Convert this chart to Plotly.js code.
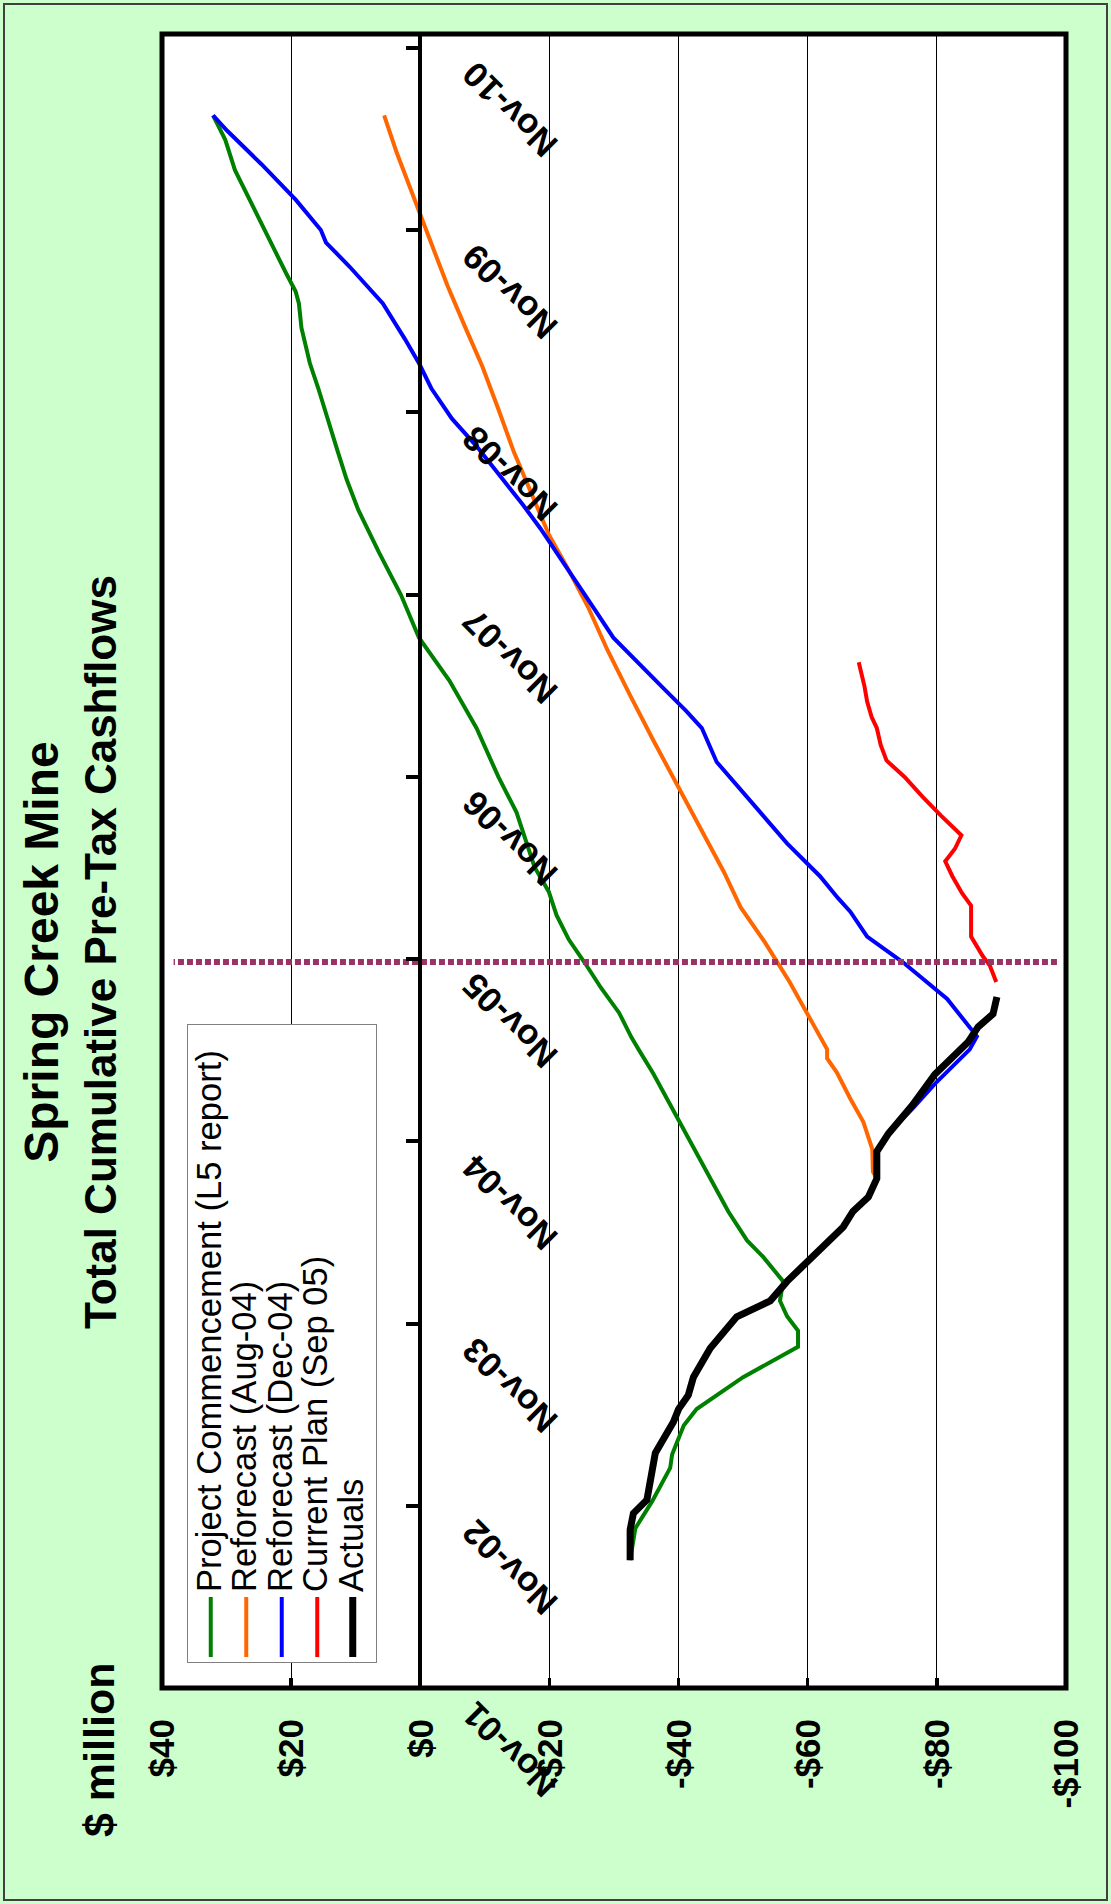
<!DOCTYPE html>
<html><head><meta charset="utf-8">
<script src="https://cdn.plot.ly/plotly-3.0.1.min.js"></script>
<style>
html,body{margin:0;padding:0;width:1111px;height:1904px;overflow:hidden;background:#ccffcc;}
#wrap{position:absolute;left:0;top:0;width:1904px;height:1111px;transform-origin:0 0;transform:translateY(1904px) rotate(-90deg);}
</style></head><body><div id="wrap"></div>
<script>
// ---- data ----
const actualDates = ['2002-07-15','2002-09-14','2002-10-17','2002-11-13','2003-02-15','2003-04-18','2003-05-14','2003-06-11','2003-07-17','2003-09-13','2003-11-15','2003-11-28','2003-12-17','2004-01-25','2004-03-04','2004-04-14','2004-05-13','2004-06-13','2004-07-12','2004-08-18','2004-10-11','2004-11-16','2005-01-12','2005-03-15','2005-04-15','2005-05-18','2005-06-18','2005-07-14','2005-08-17'];
const actualVals = [-32.5,-32.5,-33.0,-35.1,-36.4,-39.2,-40.0,-41.5,-42.3,-44.9,-49.0,-51.1,-54.2,-56.8,-59.9,-63.5,-65.5,-67.0,-69.4,-70.7,-70.7,-72.5,-76.2,-79.7,-82.1,-84.8,-86.4,-88.7,-89.3];

const projDates = ['2002-07-15','2002-08-21','2002-09-17','2002-11-10','2003-01-16','2003-02-12','2003-04-11','2003-05-14','2003-07-17','2003-08-19','2003-09-16','2003-10-18','2003-11-16','2003-12-17','2004-01-25','2004-03-14','2004-04-16','2004-06-13','2004-10-13','2004-12-16','2005-02-19','2005-03-16','2005-05-04','2005-05-28','2005-07-16','2005-09-04','2005-10-22','2005-12-10','2006-01-28','2006-03-16','2006-05-04','2006-08-22','2006-11-01','2007-02-07','2007-05-13','2007-08-07','2007-11-01','2008-01-25','2008-04-19','2008-06-19','2008-08-19','2008-11-01','2008-12-19','2009-02-07','2009-04-19','2009-06-07','2009-07-01','2009-08-07','2009-09-25','2009-11-13','2010-01-13','2010-03-01','2010-05-01','2010-06-19'];
const projVals = [-32.5,-33.0,-33.3,-35.9,-38.7,-39.0,-40.8,-42.8,-50.0,-54.6,-58.5,-58.5,-56.8,-55.7,-56.2,-53.1,-50.6,-47.7,-42.6,-39.9,-37.2,-36.1,-33.8,-32.7,-30.8,-28.0,-25.6,-23.0,-21.1,-19.9,-17.7,-14.9,-12.1,-8.7,-4.5,0.2,3.0,6.4,9.6,11.4,12.9,14.6,15.8,17.1,18.4,18.8,19.3,20.8,22.7,24.6,26.8,28.7,30.2,32.1];

const aug04Dates = ['2004-08-18','2004-09-01','2004-10-16','2004-12-10','2005-01-25','2005-03-19','2005-04-16','2005-05-04','2005-06-22','2005-09-16','2005-12-04','2006-02-13','2006-04-25','2006-07-28','2006-10-25','2007-01-13','2007-04-16','2007-07-13','2007-10-07','2007-12-25','2008-03-01','2008-05-25','2008-08-13','2008-11-07','2009-02-01','2009-04-19','2009-07-13','2009-10-19','2010-01-16','2010-04-07','2010-06-19'];
const aug04Vals = [-70.7,-70.1,-70.0,-68.6,-66.6,-64.5,-63.0,-63.0,-60.9,-57.2,-53.4,-49.6,-47.0,-43.1,-39.3,-36.1,-32.4,-29.0,-26.0,-22.8,-19.9,-17.1,-14.5,-12.1,-9.6,-7.0,-4.2,-1.3,1.3,3.7,5.6];

const dec04Dates = ['2004-10-11','2004-11-16','2005-01-06','2005-02-28','2005-05-04','2005-05-30','2005-08-13','2005-10-25','2005-12-16','2006-02-04','2006-03-03','2006-04-16','2006-06-21','2006-08-16','2006-10-08','2006-12-01','2007-02-07','2007-03-13','2007-05-01','2007-06-19','2007-08-07','2007-10-01','2007-11-25','2008-01-19','2008-03-13','2008-05-01','2008-07-01','2008-08-25','2008-10-19','2008-12-19','2009-02-07','2009-03-28','2009-06-07','2009-08-19','2009-10-07','2009-11-01','2010-01-01','2010-03-13','2010-05-19','2010-06-19'];
const dec04Vals = [-70.7,-72.5,-76.3,-80.0,-85.1,-86.2,-81.6,-74.8,-69.2,-66.6,-64.7,-61.9,-56.8,-53.0,-49.6,-45.9,-43.6,-41.2,-37.4,-33.7,-29.9,-27.1,-24.3,-21.5,-18.6,-15.8,-12.1,-8.7,-4.9,-1.7,0.2,2.4,5.8,10.9,14.6,15.4,19.3,24.6,29.9,32.1];

const sep05Dates = ['2005-09-16','2005-10-19','2005-11-07','2005-12-16','2006-02-16','2006-03-13','2006-04-16','2006-05-16','2006-06-10','2006-07-07','2006-08-16','2006-09-22','2006-11-01','2006-12-04','2007-01-04','2007-02-07','2007-03-01','2007-04-01','2007-05-01','2007-06-19'];
const sep05Vals = [-89.2,-88.2,-87.1,-85.3,-85.3,-83.9,-82.4,-81.3,-82.8,-83.8,-80.6,-77.8,-75.0,-72.2,-71.3,-70.7,-69.9,-69.2,-68.8,-67.9];

const markerDates = ['2005-10-26','2005-10-26'];
const markerVals = [-98.6, 38.2];

const seriesNames = ['Project Commencement (L5 report)','Reforecast (Aug-04)','Reforecast (Dec-04)','Current Plan (Sep 05)','Actuals'];
const yTickVals = [40,20,0,-20,-40,-60,-80,-100];
const yTickText = ['$40','$20','$0','-$20','-$40','-$60','-$80','-$100'];
const titleLines = ['Spring Creek Mine','Total Cumulative Pre-Tax Cashflows'];
const unitLabel = '$ million';

// ---- chart ----
const FONT = 'Liberation Sans, Arial, sans-serif';
function lg(n, pad){ return '<span style="font-size:34.6px">' + n + (pad ? '&nbsp;&nbsp;' : '') + '</span>'; }
const traces = [
  {x: projDates, y: projVals, name: lg(seriesNames[0], true), mode:'lines', line:{color:'#008000', width:4}},
  {x: aug04Dates, y: aug04Vals, name: lg(seriesNames[1]), mode:'lines', line:{color:'#FF6600', width:4}},
  {x: dec04Dates, y: dec04Vals, name: lg(seriesNames[2]), mode:'lines', line:{color:'#0000FF', width:4}},
  {x: sep05Dates, y: sep05Vals, name: lg(seriesNames[3]), mode:'lines', line:{color:'#FF0000', width:4}},
  {x: actualDates, y: actualVals, name: lg(seriesNames[4]), mode:'lines', line:{color:'#000000', width:7}},
  {x: markerDates, y: markerVals, mode:'lines', showlegend:false, line:{color:'#993366', width:6, dash:'6px,3px'}}
];

const H = 904, W = 1654;
const layout = {
  width: 1904, height: 1111,
  margin: {l:216, r:34, t:162, b:45},
  paper_bgcolor: '#ccffcc', plot_bgcolor: '#ffffff',
  font: {family: FONT, color:'#000'},
  showlegend: true,
  title: {
    text: '<span style="font-size:48px">' + titleLines[0] + '</span><br>' + titleLines[1],
    font: {family: FONT, size: 44, weight: 'bold', color:'#000'},
    x: 0.5, xanchor: 'center', xref: 'container',
    y: 0.9474, yanchor: 'top', yref: 'container'
  },
  xaxis: {
    type: 'date',
    range: ['2001-11-01','2010-11-29'],
    anchor: 'free', position: 100/140,
    showline: true, linecolor:'#000', linewidth: 4,
    ticks: 'inside', ticklen: 12, tickwidth: 4, tickcolor: '#000',
    tick0: '2001-11-01', dtick: 'M12', tickformat: '%b-%y',
    tickangle: -45,
    ticklabelshift: -24, ticklabelstandoff: 18,
    tickfont: {family: FONT, size: 35, weight: 'bold', color:'#000'},
    showgrid: false, zeroline: false
  },
  yaxis: {
    range: [-100, 40],
    tickvals: yTickVals, ticktext: yTickText,
    ticks: 'inside', ticklen: 10, tickwidth: 3.5, tickcolor:'#000',
    showgrid: true, gridcolor: '#000', gridwidth: 1,
    zeroline: false, showline: false,
    ticklabelstandoff: 30,
    tickfont: {family: FONT, size: 35, weight: 'bold', color:'#000'}
  },
  legend: {
    x: (241-216)/W, y: 1 - (187-162)/H, xanchor:'left', yanchor:'top',
    bgcolor: '#ffffff', bordercolor: '#808080', borderwidth: 1,
    font: {family: FONT, size: 25, color:'#000'},
    itemwidth: 60, traceorder: 'normal'
  },
  annotations: [
    {text: unitLabel, xref:'paper', yref:'paper', x:(65-216)/W, y:1+(162-99)/H,
     xanchor:'left', yanchor:'middle', showarrow:false,
     font:{family: FONT, size: 43, weight:'bold', color:'#000'}}
  ],
  shapes: [
    {type:'rect', xref:'paper', yref:'paper', x0:0, x1:1, y0:0, y1:1, line:{color:'#000', width:5}},
    {type:'rect', xref:'paper', yref:'paper', x0:(4-216)/W, x1:(1900-216)/W, y0:-(1107-1066)/H, y1:1+(162-4)/H, line:{color:'#404040', width:2}}
  ]
};
Plotly.newPlot('wrap', traces, layout, {displayModeBar:false, staticPlot:true});
</script></body></html>
